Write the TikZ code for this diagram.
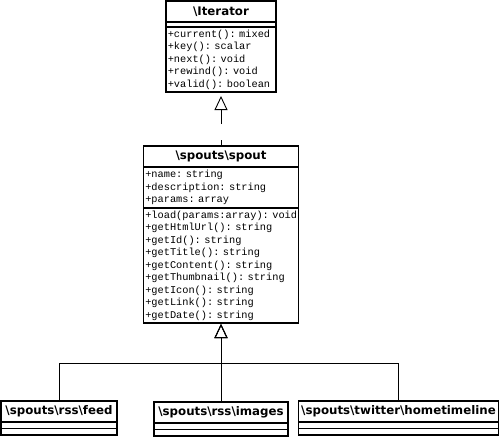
\documentclass[tikz,border=0pt]{standalone}
\usepackage{fontspec}
\setmainfont{DejaVu Sans}
\newfontfamily\mymono{Liberation Mono}
\usetikzlibrary{positioning,arrows.meta}
\newcommand{\bs}{\textbackslash}
\tikzset{
  myclass/.style={draw,line width=1.4pt,outer sep=0pt,inner sep=0pt,minimum height=21pt,
    font=\bfseries\fontsize{11.8}{14}\selectfont},
  mypart/.style={draw,line width=1.4pt,outer sep=0pt,inner xsep=1.8pt,inner ysep=0pt,align=left,
    font=\mymono\fontsize{10.3}{12.5}\selectfont},
  myinherit/.style={line width=0.9pt,-{Triangle[open,length=14pt,width=13pt]}}
}
\begin{document}
\begin{tikzpicture}[x=1pt,y=-1pt]
  \useasboundingbox (0,0) rectangle (500,437);
  % interface
  \node[myclass,minimum width=110pt,anchor=north] (iter) at (221,1) {\bs Iterator};
  \node[mypart,minimum width=110pt,minimum height=5pt,below=0pt of iter] (iterattr) {};
  \node[mypart,text width=106.4pt,minimum height=65pt,below=0pt of iterattr] (iterops)
    {+current():~mixed\\+key():~scalar\\+next():~void\\+rewind():~void\\+valid():~boolean};
  % spout
  \node[myclass,minimum width=155pt,anchor=north] (spout) at (221,146) {\bs spouts\bs spout};
  \node[mypart,text width=151.4pt,minimum height=41pt,below=0pt of spout] (spoutattr)
    {+name:~string\\+description:~string\\+params:~array};
  \node[mypart,text width=151.4pt,minimum height=115pt,below=0pt of spoutattr] (spoutops)
    {+load(params:array):~void\\+getHtmlUrl():~string\\+getId():~string\\+getTitle():~string\\
     +getContent():~string\\+getThumbnail():~string\\+getIcon():~string\\+getLink():~string\\
     +getDate():~string};
  % subclasses
  \foreach \n/\x/\y/\w/\t in {feed/59/401/116/\bs spouts\bs rss\bs feed,
      images/221/402/134/\bs spouts\bs rss\bs images,
      home/398.5/401/200/\bs spouts\bs twitter\bs hometimeline}{
    \node[myclass,minimum width=\w pt,anchor=north] (\n) at (\x,\y) {\t};
    \node[mypart,minimum width=\w pt,minimum height=6.5pt,below=0pt of \n] (\n a) {};
    \node[mypart,minimum width=\w pt,minimum height=6.5pt,below=0pt of \n a] (\n b) {};
  }
  \coordinate (hub) at (221,363);
  \draw[myinherit,dash pattern=on 15pt off 16pt,dash phase=9pt,shorten >=4pt] (spout.north) -- (iterops.south);
  \draw[myinherit,shorten >=1pt] (feed.north) |- (hub) -- (spoutops.south);
  \draw[myinherit,shorten >=1pt] (images.north) -- (spoutops.south);
  \draw[myinherit,shorten >=1pt] (home.north) |- (hub) -- (spoutops.south);
\end{tikzpicture}
\end{document}
